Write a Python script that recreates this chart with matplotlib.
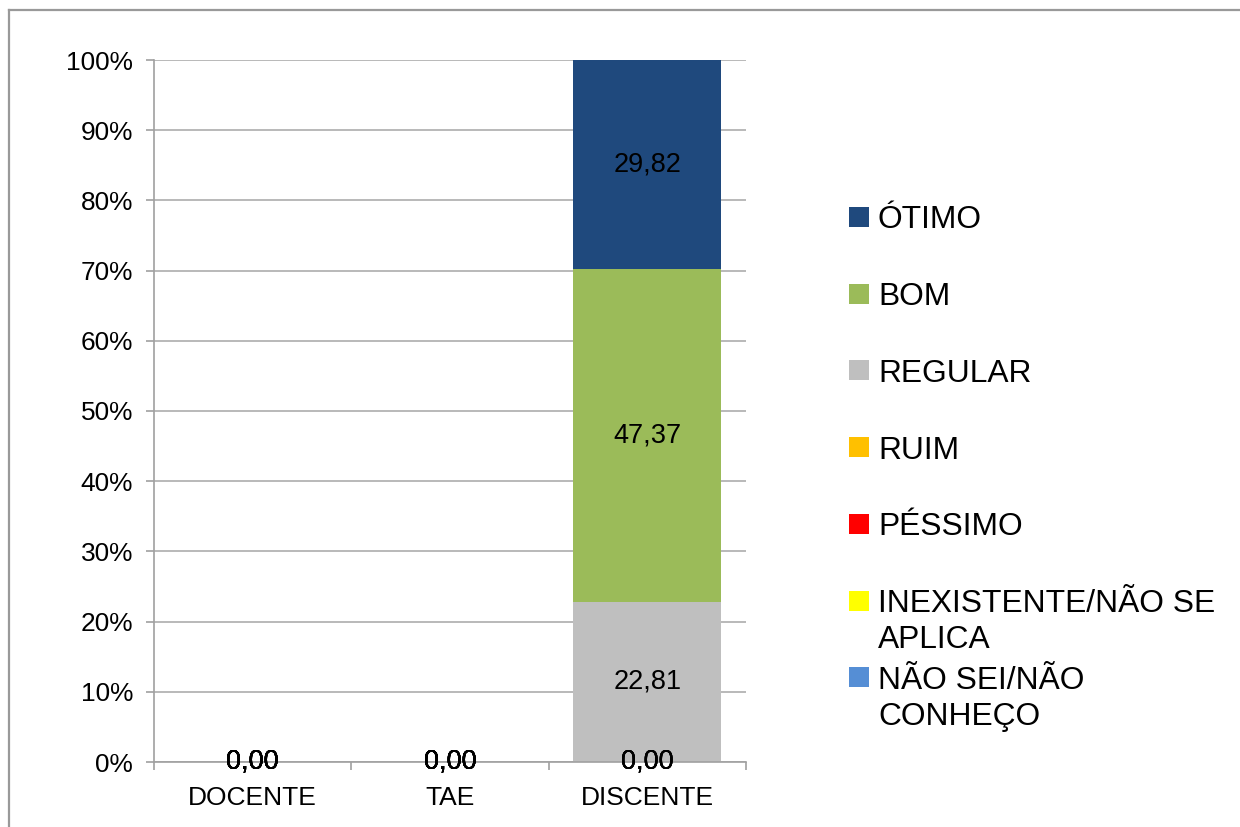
import matplotlib
matplotlib.use("Agg")
import matplotlib.pyplot as plt
from matplotlib.lines import Line2D
from matplotlib.patches import Rectangle
import numpy as np

plt.rcParams['font.family'] = ['Liberation Sans', 'DejaVu Sans']

categories = ["DOCENTE", "TAE", "DISCENTE"]
# series listed bottom-to-top of the stack
series_names = ["NÃO SEI/NÃO\nCONHEÇO", "INEXISTENTE/NÃO SE\nAPLICA", "PÉSSIMO", "RUIM",
                "REGULAR", "BOM", "ÓTIMO"]
series_colors = ["#558ED5", "#FFFF00", "#FF0000", "#FFC000", "#BFBFBF", "#9BBB59", "#1F497D"]
nao_sei = [0.0, 0.0, 0.0]
inexistente = [0.0, 0.0, 0.0]
pessimo = [0.0, 0.0, 0.0]
ruim = [0.0, 0.0, 0.0]
regular = [0.0, 0.0, 22.81]
bom = [0.0, 0.0, 47.37]
otimo = [0.0, 0.0, 29.82]
series_values = [nao_sei, inexistente, pessimo, ruim, regular, bom, otimo]
y_ticks = [0, 10, 20, 30, 40, 50, 60, 70, 80, 90, 100]

W, H = 1240, 827
fig = plt.figure(figsize=(W / 100, H / 100), dpi=100)
ax = fig.add_axes([154 / W, 1 - 762 / H, (746 - 154) / W, (762 - 60) / H])

x = np.arange(len(categories))
bottom = np.zeros(len(categories))
for name, color, vals in zip(series_names, series_colors, series_values):
    vals = np.array(vals)
    ax.bar(x, vals, width=0.75, bottom=bottom, color=color, label=name, zorder=2)
    for xi, b, v in zip(x, bottom, vals):
        ax.text(xi, b + v / 2, f"{v:.2f}".replace(".", ","), ha="center", va="center",
                fontsize=19.5, color="black", zorder=4)
    bottom = bottom + vals

ax.set_xlim(-0.5, len(categories) - 0.5)
ax.set_ylim(0, 100)
ax.set_yticks(y_ticks)
ax.set_yticklabels([f"{t}%" for t in y_ticks], fontsize=18.9)
ax.set_xticks(x)
ax.set_xticklabels(categories, fontsize=19)
ax.set_xticks(np.arange(-0.5, len(categories)), minor=True)
ax.tick_params(axis="x", which="major", length=0, pad=17)
ax.tick_params(axis="x", which="minor", length=6, color="#A0A0A0", width=1.2)
ax.tick_params(axis="y", length=6, color="#A0A0A0", width=1.2, pad=9)
ax.yaxis.grid(True, color="#A6A6A6", linewidth=1.1, zorder=0)
ax.set_axisbelow(True)
for s in ["top", "right"]:
    ax.spines[s].set_visible(False)
for s in ["left", "bottom"]:
    ax.spines[s].set_color("#A0A0A0")
    ax.spines[s].set_linewidth(1.2)

# legend (top-to-bottom = reversed stack order)
leg_y0 = 217
leg_step = 76.7
line_px = 36
for i, (name, color) in enumerate(zip(series_names[::-1], series_colors[::-1])):
    yc = leg_y0 + i * leg_step
    fig.add_artist(Rectangle((849 / W, 1 - (yc + 10) / H), 20 / W, 20 / H,
                             transform=fig.transFigure, facecolor=color, edgecolor="none"))
    for j, line in enumerate(name.split("\n")):
        fig.text(878 / W, 1 - (yc + j * line_px) / H, line, ha="left",
                 va="center_baseline", fontsize=22.9)

# outer frame
fig.add_artist(Line2D([9 / W, 1.0], [1 - 9.5 / H, 1 - 9.5 / H], transform=fig.transFigure,
                      color="#999999", linewidth=1.6))
fig.add_artist(Line2D([9 / W, 9 / W], [0, 1 - 9.5 / H], transform=fig.transFigure,
                      color="#999999", linewidth=1.6))

fig.savefig("out.png", dpi=100)
